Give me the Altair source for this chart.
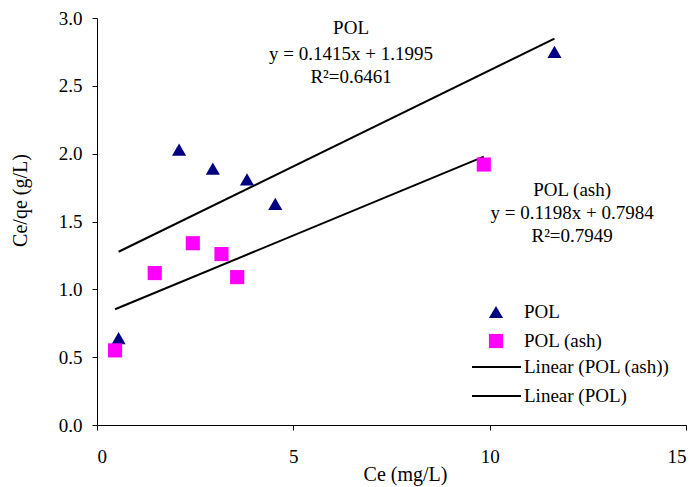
import altair as alt
import pandas as pd

# ---- data ----
series_names = ["POL", "POL (ash)"]
pol_x = [0.55, 2.09, 2.95, 3.82, 4.54, 11.65]
pol_y = [0.64, 2.03, 1.89, 1.81, 1.63, 2.75]
ash_x = [0.46, 1.47, 2.44, 3.17, 3.57, 9.85]
ash_y = [0.55, 1.12, 1.34, 1.26, 1.09, 1.92]

trend_names = ["Linear (POL (ash))", "Linear (POL)"]
trend_x = [[0.46, 9.85], [0.55, 11.65]]
trend_y = [[0.853, 1.978], [1.277, 2.848]]

ann_text = ["POL", "y = 0.1415x + 1.1995", "R²=0.6461",
            "POL (ash)", "y = 0.1198x + 0.7984", "R²=0.7949"]
ann_x = [6.47, 6.47, 6.47, 12.10, 12.10, 12.10]
ann_y = [2.926, 2.735, 2.565, 1.732, 1.563, 1.393]

x_ticks = [0, 5, 10, 15]
y_ticks = [0.0, 0.5, 1.0, 1.5, 2.0, 2.5, 3.0]

# ---- tables ----
pts = pd.DataFrame({
    "x": pol_x + ash_x,
    "y": pol_y + ash_y,
    "series": [series_names[0]] * len(pol_x) + [series_names[1]] * len(ash_x),
})
tr_rows = []
for name, xs, ys in zip(trend_names, trend_x, trend_y):
    for xv, yv in zip(xs, ys):
        tr_rows.append({"x": xv, "y": yv, "trend": name})
tr = pd.DataFrame(tr_rows)
ann = pd.DataFrame({"x": ann_x, "y": ann_y, "text": ann_text})

FONT = "Liberation Serif"
FS = 19

xenc = alt.X("x:Q", scale=alt.Scale(domain=[0, 15], nice=False),
             axis=alt.Axis(values=x_ticks, title="Ce (mg/L)", labelPadding=17,
                           format="d", titleX=308, titleY=49,
                           titleBaseline="middle", titleAlign="center"))
yenc = alt.Y("y:Q", scale=alt.Scale(domain=[0, 3], nice=False),
             axis=alt.Axis(values=y_ticks, title="Ce/qe (g/L)", format=".1f",
                           labelPadding=10, titleX=-77, titleY=182,
                           titleBaseline="middle", titleAlign="center"))

pt_legend = alt.Legend(title=None, orient="none", legendX=389.5, legendY=284.5,
                       labelFont=FONT, labelFontSize=FS, labelColor="black",
                       labelOffset=18.5, rowPadding=9, symbolSize=200,
                       symbolStrokeWidth=0, padding=0, symbolOpacity=1)

lines = alt.Chart(tr).mark_line(strokeWidth=2).encode(
    x=xenc, y=yenc,
    stroke=alt.Stroke("trend:N",
                      scale=alt.Scale(domain=trend_names, range=["black", "black"]),
                      legend=alt.Legend(title=None, orient="none", legendX=390, legendY=339.5,
                                        labelFont=FONT, labelFontSize=FS, labelColor="black",
                                        labelOffset=18, rowPadding=9,
                                        symbolType="M-4.9,0L4.9,0", symbolSize=100,
                                        symbolStrokeWidth=2, padding=0)),
)

points = alt.Chart(pts).mark_point(filled=True, opacity=1, size=200).encode(
    x="x:Q", y="y:Q",
    color=alt.Color("series:N",
                    scale=alt.Scale(domain=series_names, range=["#000080", "#FF00FF"]),
                    legend=pt_legend),
    shape=alt.Shape("series:N",
                    scale=alt.Scale(domain=series_names, range=["triangle-up", "square"]),
                    legend=pt_legend),
)

texts = alt.Chart(ann).mark_text(font=FONT, fontSize=FS, color="black",
                                 align="center", baseline="middle").encode(
    x="x:Q", y="y:Q", text="text:N"
)

chart = alt.layer(lines, points, texts).properties(
    width=589, height=407,
    autosize=alt.AutoSizeParams(type="none"),
    padding={"left": 97, "top": 18, "right": 11, "bottom": 62},
    background="white",
).configure_axis(
    grid=False, domainColor="black", tickColor="black", labelColor="black",
    titleColor="black", labelFont=FONT, titleFont=FONT, labelFontSize=FS,
    titleFontSize=20, titleFontWeight="normal", tickSize=5, domainWidth=1,
).configure_view(strokeWidth=0)

chart.save("out.html", embed_options={"renderer": "svg", "actions": False})
